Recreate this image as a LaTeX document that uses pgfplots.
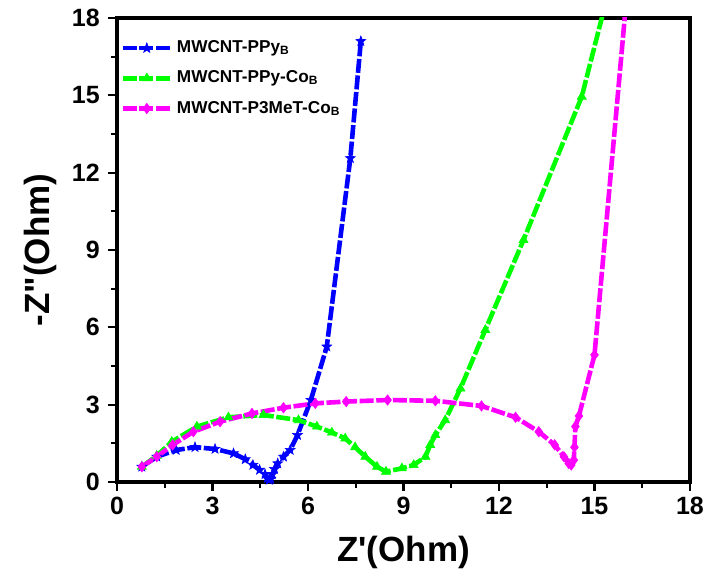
\documentclass[border=0pt]{standalone}
\usepackage{fontspec}
\setmainfont{Liberation Sans}
\newfontfamily\rawsf{Liberation Sans}
\usepackage{pgfplots}
\pgfplotsset{compat=1.18}

% filled five-point star, like the Origin marker
\pgfdeclareplotmark{fstar}{%
  \pgfpathmoveto{\pgfpointpolar{90}{\pgfplotmarksize}}%
  \pgfpathlineto{\pgfpointpolar{126}{0.42\pgfplotmarksize}}%
  \pgfpathlineto{\pgfpointpolar{162}{\pgfplotmarksize}}%
  \pgfpathlineto{\pgfpointpolar{198}{0.42\pgfplotmarksize}}%
  \pgfpathlineto{\pgfpointpolar{234}{\pgfplotmarksize}}%
  \pgfpathlineto{\pgfpointpolar{270}{0.42\pgfplotmarksize}}%
  \pgfpathlineto{\pgfpointpolar{306}{\pgfplotmarksize}}%
  \pgfpathlineto{\pgfpointpolar{342}{0.42\pgfplotmarksize}}%
  \pgfpathlineto{\pgfpointpolar{18}{\pgfplotmarksize}}%
  \pgfpathlineto{\pgfpointpolar{54}{0.42\pgfplotmarksize}}%
  \pgfpathclose\pgfusepathqfillstroke}

\definecolor{cblue}{RGB}{0,0,255}
\definecolor{cgreen}{RGB}{0,255,0}
\definecolor{cmag}{RGB}{255,0,255}

\begin{document}
\begin{tikzpicture}
% fixed page: 707 x 581 px at 0.5pt per px
\useasboundingbox (-58.5pt,-49.5pt) rectangle (295pt,241pt);
\begin{axis}[
  at={(0,0)}, anchor=south west,
  scale only axis,
  width=286.5pt, height=232pt,
  line width=1.6pt,
  xmin=0, xmax=18, ymin=0, ymax=18,
  xtick={0,3,...,18}, ytick={0,3,...,18},
  minor tick num=1,
  tick align=outside,
  xtick pos=left, ytick pos=left,
  major tick length=4.5pt, minor tick length=3pt,
  every tick/.style={line width=1.1pt, black},
  /pgf/number format/assume math mode=true,
  tick label style={font=\rawsf\bfseries\fontsize{12.5}{14}\selectfont},
  xticklabel style={yshift=1pt},
  xlabel={Z'(Ohm)},
  ylabel={-Z"(Ohm)},
  label style={font=\rawsf\bfseries\fontsize{17.5}{20}\selectfont},
  xlabel style={at={(axis description cs:0.5,-0.151)}, anchor=center},
  ylabel style={at={(axis description cs:-0.134,0.5)}, anchor=center},
  legend style={draw=none, fill=none, at={(0.0,0.972)}, anchor=north west,
    inner xsep=1pt,
    font=\rawsf\bfseries\fontsize{8.6}{10}\selectfont, row sep=3.6pt},
  legend cell align=left,
  legend image code/.code={%
    \draw[mark repeat=2, mark phase=2] plot coordinates {(0cm,0cm) (0.42cm,0cm) (0.84cm,0cm)};},
  every axis plot/.append style={line width=2.3pt, dash pattern=on 7pt off 1.3pt},
]

% MWCNT-PPy_B
\addplot[cblue, mark=fstar, mark size=2.6pt, mark options={solid, line width=0.3pt}] coordinates {
  (0.78,0.59) (1.25,0.98) (1.86,1.24) (2.45,1.35) (3.08,1.28) (3.66,1.11)
  (4.03,0.88) (4.27,0.66) (4.48,0.47) (4.65,0.30) (4.72,0.15) (4.78,0.08)
  (4.83,0.12) (4.88,0.30) (4.95,0.50) (5.05,0.72) (5.23,0.98) (5.44,1.24)
  (5.67,1.82) (6.09,3.18) (6.59,5.25) (7.33,12.56) (7.66,17.1)
};

% MWCNT-PPy-Co_B
\addplot[cgreen, mark=triangle*, mark size=2.6pt, mark options={solid, line width=0.3pt}] coordinates {
  (0.78,0.59) (1.25,1.02) (1.72,1.56) (2.51,2.15) (3.50,2.51) (4.60,2.60)
  (5.70,2.40) (6.28,2.15) (6.75,1.92) (7.17,1.69) (7.48,1.35) (7.80,0.98)
  (8.17,0.59) (8.45,0.40) (8.95,0.53) (9.32,0.66) (9.69,0.98) (9.84,1.44)
  (10.0,1.82) (10.31,2.40) (10.79,3.63) (11.57,5.90) (12.77,9.39)
  (14.60,14.95) (15.60,19.8)
};

% MWCNT-P3MeT-Co_B
\addplot[cmag, mark=diamond*, mark size=2.6pt, mark options={solid, line width=0.3pt}] coordinates {
  (0.78,0.59) (1.25,0.98) (1.75,1.44) (2.40,1.95) (3.24,2.34) (4.24,2.66)
  (5.23,2.88) (6.23,3.05) (7.20,3.12) (8.50,3.18) (10.0,3.15) (11.45,2.95)
  (12.52,2.51) (13.25,1.95) (13.75,1.44) (14.04,0.98) (14.19,0.72)
  (14.27,0.66) (14.35,0.85) (14.37,1.35) (14.40,2.15) (14.51,2.56)
  (15.00,4.93) (16.08,19.8)
};

\legend{MWCNT-PPy\textsubscript{B}, MWCNT-PPy-Co\textsubscript{B}, MWCNT-P3MeT-Co\textsubscript{B}}
\end{axis}
\end{tikzpicture}
\end{document}
